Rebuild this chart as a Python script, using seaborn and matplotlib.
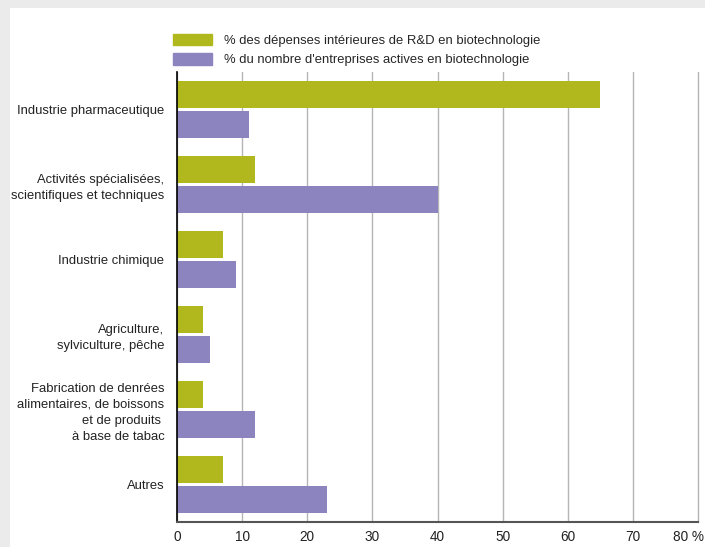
import pandas as pd
import numpy as np
import matplotlib.pyplot as plt
import matplotlib.patches as mpatches
import matplotlib.transforms as mtransforms
import seaborn as sns

sns.set_theme(style="white")
plt.rcParams['font.family'] = ['Liberation Sans', 'DejaVu Sans']

categories = [
    "Industrie pharmaceutique",
    "Activités spécialisées,\nscientifiques et techniques",
    "Industrie chimique",
    "Agriculture,\nsylviculture, pêche",
    "Fabrication de denrées\nalimentaires, de boissons\net de produits \nà base de tabac",
    "Autres",
]
series_names = [
    "% des dépenses intérieures de R&D en biotechnologie",
    "% du nombre d'entreprises actives en biotechnologie",
]
depenses_rd = [65, 12, 7, 4, 4, 7]
entreprises = [11, 40, 9, 5, 12, 23]
x_ticks = [0, 10, 20, 30, 40, 50, 60, 70, 80]
x_tick_labels = ["0", "10", "20", "30", "40", "50", "60", "70", "80 %"]
colors = ["#b0b81e", "#8b84bf"]

df = pd.DataFrame({
    "Secteur": categories * 2,
    "Valeur": depenses_rd + entreprises,
    "Série": [series_names[0]] * len(categories) + [series_names[1]] * len(categories),
})

fs = 9.4
fig = plt.figure(figsize=(7.05, 5.47), dpi=100, facecolor="#ebebeb")
# white panel
fig.patches.append(mpatches.Rectangle((10 / 705, 0), 1, 1 - 8 / 547, transform=fig.transFigure,
                                      facecolor="white", edgecolor="none", zorder=-1))
ax = fig.add_axes([177 / 705, (547 - 522) / 547, (698 - 177) / 705, (522 - 72) / 547])

sns.barplot(data=df, y="Secteur", x="Valeur", hue="Série", palette=colors,
            width=0.75, orient="h", ax=ax, saturation=1, linewidth=0, legend=False)

# small gap between the two bars of a group
for bars in ax.containers:
    for b in bars:
        b.set_height(b.get_height() - 0.025)
for b in ax.containers[1]:
    b.set_y(b.get_y() + 0.025)

ax.set_xlim(0, 80)
ax.set_xticks(x_ticks)
ax.set_xticklabels(x_tick_labels, fontsize=fs + 0.4, color="#222222")
ax.tick_params(axis="y", labelsize=fs, labelcolor="#222222", length=0, pad=9)
ax.tick_params(axis="x", length=0, pad=6)
ax.set_xlabel("")
ax.set_ylabel("")
ax.set_axisbelow(True)
ax.xaxis.grid(True, color="#b5b5b5", linewidth=1)
for gl in ax.get_xgridlines():
    gl.set_clip_on(False)
for lbl in ax.get_yticklabels():
    lbl.set_horizontalalignment("right")
    lbl.set_multialignment("right")
    lbl.set_linespacing(1.45)

last = ax.get_xticklabels()[-1]
last.set_horizontalalignment("right")
last.set_transform(last.get_transform() + mtransforms.ScaledTranslation(6 / 100, 0, fig.dpi_scale_trans))

for s in ["top", "right"]:
    ax.spines[s].set_visible(False)
ax.spines["left"].set_color("black")
ax.spines["left"].set_linewidth(1.2)
ax.spines["bottom"].set_color("#555555")
ax.spines["bottom"].set_linewidth(1.5)
ax.set_facecolor("white")

handles = [mpatches.Patch(color=c, label=n) for c, n in zip(colors, series_names)]
fig.legend(handles=handles, loc="upper left", bbox_to_anchor=(161 / 705, 1 - 22 / 547),
           frameon=False, fontsize=fs, handlelength=3.0, handleheight=1.0,
           labelspacing=0.45, handletextpad=0.9)

fig.savefig("out.png", dpi=100, facecolor=fig.get_facecolor())
